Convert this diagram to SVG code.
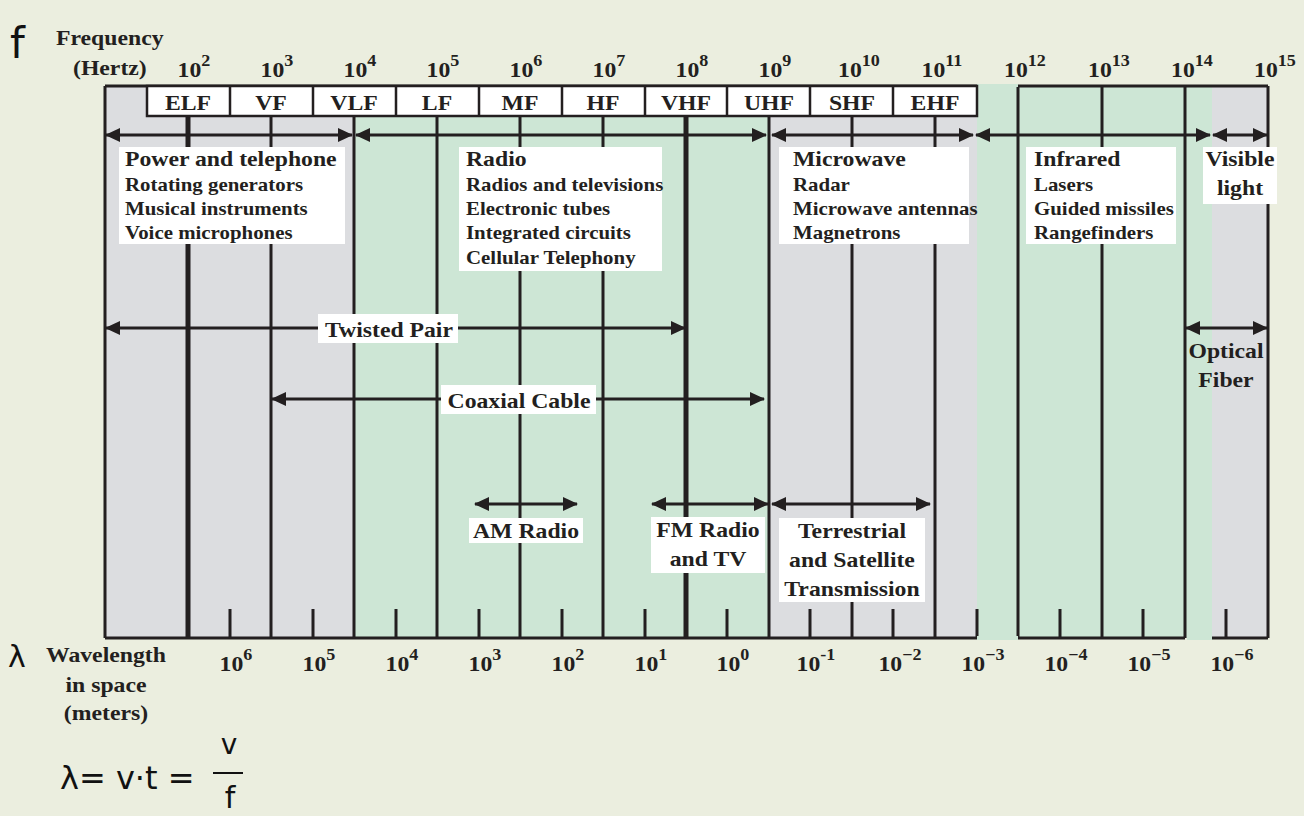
<svg xmlns="http://www.w3.org/2000/svg" width="1304" height="816" viewBox="0 0 1304 816">
<defs>
<style>
.t{font-family:"Liberation Serif","Times New Roman",serif;font-weight:bold;fill:#231f20;font-size:21px;transform-box:fill-box;transform:scaleX(1.13)}
.l{transform-origin:left center}
.m{text-anchor:middle;transform-origin:center}
.s{font-size:18.5px}
.sup{font-size:16px}
.gray{fill:#dcdde0}
.green{fill:#cde6d5}
.ln{stroke:#231f20;stroke-width:3;fill:none}
.thick{stroke:#231f20;stroke-width:5;fill:none}
.box{fill:#ffffff}
.bandbox{fill:#ffffff;stroke:#231f20;stroke-width:2.5}
.arr{stroke:#231f20;stroke-width:3;fill:none;marker-start:url(#ah);marker-end:url(#ah)}
.hw{font-family:"DejaVu Sans","Liberation Sans",sans-serif;font-weight:normal;fill:#111;}
</style>
<marker id="ah" markerUnits="userSpaceOnUse" viewBox="0 0 15 14" markerWidth="15" markerHeight="14" refX="14" refY="7" orient="auto-start-reverse">
<path d="M0,0 L15,7 L0,14 z" fill="#231f20"/>
</marker>
</defs>
<rect width="1304" height="816" fill="#ebeedf"/>

<g id="spectrum-regions">
<rect class="gray" x="105" y="86" width="249" height="552"/>
<rect class="green" x="354" y="86" width="415" height="552"/>
<rect class="gray" x="769" y="86" width="208" height="552"/>
<rect class="green" x="977" y="86" width="235" height="552"/>
<rect class="gray" x="1212" y="86" width="56" height="552"/>
</g>

<g id="grid">
<path class="ln" d="M105,86 V638 M1268,86 V638 M105,86 H977 M1018,86 H1268 M105,638 H977 M1018,638 H1185 M1212,638 H1268"/>
<path class="thick" d="M188,116 V638 M686,116 V638"/>
<path class="ln" d="M271,116 V638 M354,116 V638 M437,116 V638 M520,116 V638 M603,116 V638 M769,116 V638 M852,116 V638 M935,116 V638 M1018,86 V638 M1102,86 V638 M1185,86 V638"/>
<path class="ln" d="M230,609 V638 M313,609 V638 M396,609 V638 M479,609 V638 M562,609 V638 M645,609 V638 M727,609 V638 M810,609 V638 M893,609 V638 M977,609 V638 M1060,609 V638 M1143,609 V638 M1226,609 V638"/>
<rect class="green" x="977" y="84" width="41" height="3"/>
<rect class="green" x="977" y="636" width="41" height="4"/>
<rect class="green" x="1187" y="636" width="25" height="4"/>
</g>

<g id="band-labels">
<rect class="bandbox" x="147" y="86" width="830" height="30"/>
<path class="ln" style="stroke-width:2.5" d="M230,86 V116 M313,86 V116 M396,86 V116 M479,86 V116 M562,86 V116 M645,86 V116 M727,86 V116 M810,86 V116 M893,86 V116"/>
<text class="t m" x="188" y="110">ELF</text>
<text class="t m" x="271" y="110">VF</text>
<text class="t m" x="354" y="110">VLF</text>
<text class="t m" x="437" y="110">LF</text>
<text class="t m" x="520" y="110">MF</text>
<text class="t m" x="603" y="110">HF</text>
<text class="t m" x="686" y="110">VHF</text>
<text class="t m" x="769" y="110">UHF</text>
<text class="t m" x="852" y="110">SHF</text>
<text class="t m" x="935" y="110">EHF</text>
</g>

<g id="axis-frequency">
<text class="t l" x="56" y="45">Frequency</text>
<text class="t l" x="73" y="75">(Hertz)</text>
<text class="t m" x="194" y="77">10<tspan class="sup" dy="-11">2</tspan></text>
<text class="t m" x="277" y="77">10<tspan class="sup" dy="-11">3</tspan></text>
<text class="t m" x="360" y="77">10<tspan class="sup" dy="-11">4</tspan></text>
<text class="t m" x="443" y="77">10<tspan class="sup" dy="-11">5</tspan></text>
<text class="t m" x="526" y="77">10<tspan class="sup" dy="-11">6</tspan></text>
<text class="t m" x="609" y="77">10<tspan class="sup" dy="-11">7</tspan></text>
<text class="t m" x="692" y="77">10<tspan class="sup" dy="-11">8</tspan></text>
<text class="t m" x="775" y="77">10<tspan class="sup" dy="-11">9</tspan></text>
<text class="t m" x="859" y="77">10<tspan class="sup" dy="-11">10</tspan></text>
<text class="t m" x="942" y="77">10<tspan class="sup" dy="-11">11</tspan></text>
<text class="t m" x="1025" y="77">10<tspan class="sup" dy="-11">12</tspan></text>
<text class="t m" x="1109" y="77">10<tspan class="sup" dy="-11">13</tspan></text>
<text class="t m" x="1192" y="77">10<tspan class="sup" dy="-11">14</tspan></text>
<text class="t m" x="1275" y="77">10<tspan class="sup" dy="-11">15</tspan></text>
</g>

<g id="axis-wavelength">
<text class="t m" x="106" y="662">Wavelength</text>
<text class="t m" x="106" y="692">in space</text>
<text class="t m" x="106" y="720">(meters)</text>
<text class="t m" x="236" y="671">10<tspan class="sup" dy="-11">6</tspan></text>
<text class="t m" x="319" y="671">10<tspan class="sup" dy="-11">5</tspan></text>
<text class="t m" x="402" y="671">10<tspan class="sup" dy="-11">4</tspan></text>
<text class="t m" x="485" y="671">10<tspan class="sup" dy="-11">3</tspan></text>
<text class="t m" x="568" y="671">10<tspan class="sup" dy="-11">2</tspan></text>
<text class="t m" x="651" y="671">10<tspan class="sup" dy="-11">1</tspan></text>
<text class="t m" x="733" y="671">10<tspan class="sup" dy="-11">0</tspan></text>
<text class="t m" x="816" y="671">10<tspan class="sup" dy="-11">-1</tspan></text>
<text class="t m" x="900" y="671">10<tspan class="sup" dy="-11">−2</tspan></text>
<text class="t m" x="983" y="671">10<tspan class="sup" dy="-11">−3</tspan></text>
<text class="t m" x="1066" y="671">10<tspan class="sup" dy="-11">−4</tspan></text>
<text class="t m" x="1149" y="671">10<tspan class="sup" dy="-11">−5</tspan></text>
<text class="t m" x="1232" y="671">10<tspan class="sup" dy="-11">−6</tspan></text>
</g>

<g id="connectors">
<line class="arr" x1="106" y1="135" x2="352" y2="135"/>
<line class="arr" x1="356" y1="135" x2="766" y2="135"/>
<line class="arr" x1="772" y1="135" x2="973" y2="135"/>
<line class="arr" x1="976" y1="135" x2="1210" y2="135"/>
<line class="arr" x1="1213" y1="135" x2="1267" y2="135"/>
<line class="arr" x1="106" y1="328" x2="685" y2="328"/>
<line class="arr" x1="272" y1="399" x2="764" y2="399"/>
<line class="arr" x1="1186" y1="328" x2="1267" y2="328"/>
<line class="arr" x1="475" y1="504" x2="577" y2="504"/>
<line class="arr" x1="652" y1="504" x2="768" y2="504"/>
<line class="arr" x1="772" y1="504" x2="930" y2="504"/>
</g>

<g id="power-telephone">
<rect class="box" x="119" y="147" width="226" height="97"/>
<text class="t l" x="125" y="166">Power and telephone</text>
<text class="t l s" x="125" y="191">Rotating generators</text>
<text class="t l s" x="125" y="215">Musical instruments</text>
<text class="t l s" x="125" y="239">Voice microphones</text>
</g>

<g id="radio">
<rect class="box" x="459" y="147" width="203" height="124"/>
<text class="t l" x="466" y="166">Radio</text>
<text class="t l s" x="466" y="191">Radios and televisions</text>
<text class="t l s" x="466" y="215">Electronic tubes</text>
<text class="t l s" x="466" y="239">Integrated circuits</text>
<text class="t l s" x="466" y="264">Cellular Telephony</text>
</g>

<g id="microwave">
<rect class="box" x="779" y="147" width="190" height="97"/>
<text class="t l" x="793" y="166">Microwave</text>
<text class="t l s" x="793" y="191">Radar</text>
<text class="t l s" x="793" y="215">Microwave antennas</text>
<text class="t l s" x="793" y="239">Magnetrons</text>
</g>

<g id="infrared">
<rect class="box" x="1026" y="147" width="150" height="97"/>
<text class="t l" x="1034" y="166">Infrared</text>
<text class="t l s" x="1034" y="191">Lasers</text>
<text class="t l s" x="1034" y="215">Guided missiles</text>
<text class="t l s" x="1034" y="239">Rangefinders</text>
</g>

<g id="visible-light">
<rect class="box" x="1203" y="147" width="74" height="57"/>
<text class="t m" x="1240" y="166">Visible</text>
<text class="t m" x="1240" y="195">light</text>
</g>

<g id="twisted-pair">
<rect class="box" x="318" y="314" width="140" height="29"/>
<text class="t m" x="389" y="337">Twisted Pair</text>
</g>

<g id="coaxial-cable">
<rect class="box" x="441" y="385" width="155" height="29"/>
<text class="t m" x="519" y="408">Coaxial Cable</text>
</g>

<g id="optical-fiber">
<text class="t m" x="1226" y="358">Optical</text>
<text class="t m" x="1226" y="387">Fiber</text>
</g>

<g id="am-radio">
<rect class="box" x="469" y="518" width="114" height="25"/>
<text class="t m" x="526" y="538">AM Radio</text>
</g>

<g id="fm-radio">
<rect class="box" x="651" y="517" width="114" height="56"/>
<text class="t m" x="708" y="537">FM Radio</text>
<text class="t m" x="708" y="566">and TV</text>
</g>

<g id="terrestrial">
<rect class="box" x="779" y="518" width="146" height="84"/>
<text class="t m" x="852" y="538">Terrestrial</text>
<text class="t m" x="852" y="567">and Satellite</text>
<text class="t m" x="852" y="596">Transmission</text>
</g>

<g id="handwriting">
<text class="hw" x="10" y="58" font-size="42">f</text>
<text class="hw" x="8" y="667" font-size="30">λ</text>
<text class="hw" x="60" y="789" font-size="32">λ= v·t =</text>
<text class="hw" x="229" y="754" font-size="28" text-anchor="middle">v</text>
<line x1="213" y1="773" x2="243" y2="773" stroke="#111" stroke-width="2"/>
<text class="hw" x="230" y="808" font-size="30" text-anchor="middle">f</text>
</g>
</svg>
